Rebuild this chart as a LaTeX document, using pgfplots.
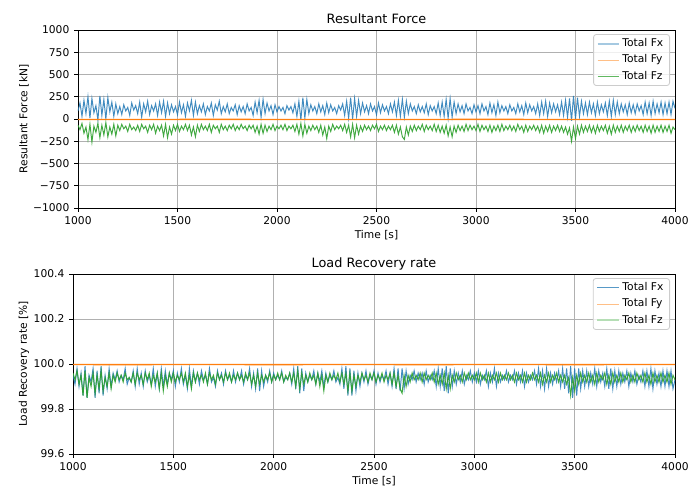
\documentclass[border=0pt]{standalone}
\usepackage{fontspec}
\setmainfont{DejaVu Sans}
\usepackage{pgfplots}
\usepackage{pgfplotstable}
\pgfplotsset{compat=1.18}

\definecolor{c0}{HTML}{1F77B4}
\definecolor{c1}{HTML}{FF7F0E}
\definecolor{c2}{HTML}{2CA02C}
\definecolor{gridc}{HTML}{B0B0B0}

% t: time [s]; fx, fz: resultant force [kN]; rx, rz: load recovery rate [%]
\pgfplotstableread{
t fx fz rx rz
1000 90 -70 99.95 99.96
1010 180 -120 99.91 99.93
1020 30 -50 99.98 99.97
1030 210 -160 99.90 99.91
1040 60 -90 99.96 99.95
1050 250 -230 99.86 99.86
1060 10 -60 99.99 99.97
1070 230 -260 99.85 99.85
1080 70 -80 99.95 99.94
1090 150 -150 99.92 99.90
1100 -10 -50 99.98 99.96
1110 260 -210 99.85 99.87
1120 40 -70 99.97 99.95
1130 220 -180 99.87 99.89
1140 0 -40 99.99 99.97
1150 240 -200 99.86 99.88
1160 80 -90 99.95 99.94
1170 190 -170 99.89 99.90
1180 30 -60 99.98 99.96
1190 170 -190 99.90 99.89
1200 60 -70 99.96 99.95
1210 140 -130 99.93 99.92
1220 50 -60 99.97 99.96
1230 160 -110 99.92 99.93
1240 90 -80 99.95 99.95
1250 130 -140 99.93 99.92
1260 40 -60 99.98 99.96
1270 180 -120 99.91 99.93
1280 100 -90 99.94 99.94
1290 150 -130 99.92 99.92
1300 60 -70 99.97 99.96
1310 190 -140 99.90 99.91
1320 20 -60 99.98 99.96
1330 170 -110 99.91 99.93
1340 80 -80 99.96 99.95
1350 200 -150 99.90 99.91
1360 50 -70 99.97 99.96
1370 150 -120 99.92 99.93
1380 90 -60 99.95 99.96
1390 170 -160 99.91 99.90
1400 40 -80 99.98 99.95
1410 190 -130 99.90 99.92
1420 70 -70 99.96 99.96
1430 200 -190 99.89 99.89
1440 30 -60 99.98 99.96
1450 180 -210 99.90 99.88
1460 60 -90 99.97 99.95
1470 160 -170 99.91 99.90
1480 80 -70 99.96 99.96
1490 140 -130 99.93 99.92
1500 50 -60 99.97 99.96
1510 190 -140 99.90 99.92
1520 70 -80 99.96 99.95
1530 160 -120 99.92 99.93
1540 30 -60 99.98 99.96
1550 180 -130 99.91 99.92
1560 90 -70 99.95 99.96
1570 210 -180 99.89 99.90
1580 40 -90 99.98 99.95
1590 190 -200 99.90 99.89
1600 60 -70 99.97 99.96
1610 150 -140 99.92 99.92
1620 80 -60 99.96 99.96
1630 170 -120 99.91 99.93
1640 50 -80 99.97 99.95
1650 140 -130 99.93 99.92
1660 90 -60 99.95 99.96
1670 180 -150 99.91 99.91
1680 40 -70 99.98 99.96
1690 160 -110 99.92 99.93
1700 100 -80 99.94 99.95
1710 200 -150 99.90 99.91
1720 60 -60 99.97 99.96
1730 140 -120 99.93 99.93
1740 80 -80 99.96 99.95
1750 170 -130 99.91 99.92
1760 60 -70 99.97 99.96
1770 130 -110 99.93 99.93
1780 90 -60 99.95 99.96
1790 160 -130 99.92 99.92
1800 50 -80 99.97 99.95
1810 150 -120 99.92 99.93
1820 80 -60 99.96 99.96
1830 140 -110 99.93 99.93
1840 60 -80 99.97 99.95
1850 170 -130 99.91 99.92
1860 90 -70 99.95 99.96
1870 130 -110 99.93 99.93
1880 40 -70 99.98 99.96
1890 190 -150 99.90 99.91
1900 70 -80 99.96 99.95
1910 210 -170 99.89 99.90
1920 20 -60 99.98 99.96
1930 220 -160 99.88 99.91
1940 60 -70 99.97 99.95
1950 180 -140 99.90 99.92
1960 90 -80 99.95 99.95
1970 150 -120 99.92 99.93
1980 50 -60 99.97 99.96
1990 160 -130 99.92 99.92
2000 80 -80 99.96 99.95
2010 140 -110 99.93 99.93
2020 90 -70 99.95 99.96
2030 130 -120 99.93 99.93
2040 60 -60 99.97 99.96
2050 150 -130 99.92 99.92
2060 100 -80 99.94 99.95
2070 140 -110 99.93 99.93
2080 70 -70 99.96 99.96
2090 170 -140 99.91 99.92
2100 30 -60 99.98 99.96
2110 200 -170 99.89 99.90
2120 -10 -50 99.99 99.97
2130 240 -190 99.87 99.89
2140 10 -60 99.98 99.96
2150 220 -160 99.88 99.91
2160 60 -80 99.96 99.95
2170 160 -130 99.92 99.92
2180 90 -70 99.95 99.96
2190 140 -120 99.93 99.93
2200 60 -80 99.97 99.95
2210 170 -150 99.91 99.91
2220 80 -70 99.96 99.96
2230 150 -180 99.92 99.90
2240 50 -90 99.97 99.95
2250 180 -220 99.90 99.88
2260 70 -80 99.96 99.95
2270 160 -140 99.92 99.92
2280 90 -60 99.95 99.96
2290 130 -120 99.93 99.93
2300 60 -80 99.97 99.95
2310 150 -110 99.92 99.93
2320 100 -70 99.94 99.96
2330 170 -130 99.91 99.92
2340 40 -60 99.98 99.96
2350 200 -150 99.89 99.91
2360 10 -70 99.99 99.96
2370 240 -200 99.86 99.88
2380 0 -60 99.98 99.96
2390 230 -210 99.86 99.88
2400 30 -70 99.97 99.95
2410 210 -170 99.88 99.90
2420 60 -80 99.96 99.95
2430 180 -140 99.90 99.92
2440 80 -70 99.96 99.96
2450 150 -120 99.92 99.93
2460 60 -80 99.97 99.95
2470 170 -130 99.91 99.92
2480 90 -70 99.95 99.96
2490 140 -110 99.93 99.93
2500 50 -60 99.97 99.96
2510 180 -140 99.91 99.92
2520 70 -80 99.96 99.95
2530 160 -120 99.92 99.93
2540 90 -70 99.95 99.96
2550 140 -130 99.93 99.92
2560 60 -80 99.97 99.95
2570 170 -120 99.91 99.93
2580 80 -70 99.96 99.96
2590 190 -150 99.90 99.91
2600 40 -70 99.98 99.96
2610 210 -170 99.89 99.90
2620 30 -90 99.98 99.95
2630 220 -200 99.88 99.89
2640 20 -230 99.98 99.87
2650 200 -90 99.89 99.95
2660 60 -180 99.97 99.90
2670 170 -80 99.91 99.95
2680 90 -140 99.95 99.92
2690 140 -70 99.93 99.96
2700 60 -130 99.97 99.93
2710 160 -80 99.92 99.95
2720 80 -120 99.96 99.93
2730 140 -60 99.93 99.96
2740 70 -140 99.96 99.92
2750 170 -70 99.91 99.96
2760 50 -120 99.97 99.93
2770 150 -80 99.92 99.95
2780 90 -130 99.95 99.93
2790 140 -60 99.93 99.96
2800 60 -140 99.97 99.92
2810 180 -70 99.90 99.96
2820 40 -150 99.98 99.91
2830 190 -80 99.90 99.95
2840 30 -160 99.98 99.91
2850 220 -70 99.88 99.96
2860 10 -190 99.99 99.89
2870 230 -90 99.87 99.95
2880 20 -200 99.98 99.89
2890 190 -80 99.90 99.95
2900 60 -150 99.97 99.92
2910 170 -70 99.91 99.96
2920 80 -130 99.96 99.93
2930 150 -80 99.92 99.95
2940 60 -140 99.97 99.92
2950 170 -60 99.91 99.96
2960 90 -130 99.95 99.93
2970 130 -70 99.93 99.96
2980 60 -120 99.97 99.93
2990 160 -80 99.92 99.95
3000 80 -130 99.96 99.93
3010 150 -60 99.92 99.96
3020 60 -140 99.97 99.92
3030 170 -70 99.91 99.96
3040 90 -120 99.95 99.93
3050 140 -80 99.93 99.95
3060 50 -140 99.97 99.92
3070 180 -70 99.90 99.96
3080 70 -150 99.96 99.92
3090 160 -80 99.92 99.95
3100 40 -130 99.98 99.93
3110 190 -70 99.90 99.96
3120 70 -140 99.96 99.92
3130 150 -60 99.92 99.96
3140 90 -130 99.95 99.93
3150 140 -80 99.93 99.95
3160 60 -120 99.97 99.93
3170 160 -70 99.92 99.96
3180 90 -130 99.95 99.93
3190 130 -80 99.93 99.95
3200 60 -140 99.97 99.92
3210 170 -60 99.91 99.96
3220 80 -120 99.96 99.93
3230 150 -80 99.92 99.95
3240 50 -150 99.97 99.92
3250 180 -70 99.90 99.96
3260 70 -140 99.96 99.92
3270 160 -80 99.92 99.95
3280 90 -120 99.95 99.93
3290 140 -70 99.93 99.96
3300 60 -130 99.97 99.93
3310 170 -80 99.91 99.95
3320 40 -150 99.98 99.92
3330 190 -70 99.90 99.96
3340 60 -160 99.97 99.91
3350 200 -80 99.89 99.95
3360 30 -140 99.98 99.92
3370 180 -70 99.90 99.96
3380 70 -150 99.96 99.92
3390 170 -80 99.91 99.95
3400 80 -130 99.96 99.93
3410 160 -70 99.92 99.96
3420 50 -140 99.97 99.92
3430 190 -80 99.90 99.95
3440 40 -150 99.98 99.92
3450 210 -90 99.89 99.95
3460 20 -170 99.98 99.91
3470 230 -100 99.87 99.94
3480 -20 -250 99.99 99.86
3490 260 -90 99.85 99.94
3500 0 -220 99.98 99.88
3510 240 -80 99.86 99.95
3520 30 -170 99.98 99.91
3530 200 -70 99.89 99.96
3540 60 -150 99.97 99.92
3550 180 -80 99.90 99.95
3560 50 -140 99.97 99.92
3570 190 -70 99.90 99.96
3580 70 -150 99.96 99.92
3590 170 -80 99.91 99.95
3600 40 -160 99.98 99.91
3610 190 -70 99.90 99.96
3620 60 -140 99.97 99.92
3630 160 -80 99.92 99.95
3640 80 -130 99.96 99.93
3650 180 -70 99.90 99.96
3660 40 -160 99.98 99.91
3670 200 -80 99.89 99.95
3680 30 -170 99.98 99.91
3690 210 -70 99.89 99.96
3700 50 -150 99.97 99.92
3710 190 -80 99.90 99.95
3720 60 -140 99.97 99.92
3730 170 -70 99.91 99.96
3740 80 -150 99.96 99.92
3750 160 -80 99.92 99.95
3760 50 -130 99.97 99.93
3770 180 -70 99.90 99.96
3780 70 -150 99.96 99.92
3790 160 -80 99.92 99.95
3800 60 -140 99.97 99.92
3810 170 -70 99.91 99.96
3820 90 -130 99.95 99.93
3830 150 -80 99.92 99.95
3840 50 -150 99.97 99.92
3850 190 -70 99.90 99.96
3860 60 -140 99.97 99.92
3870 180 -80 99.90 99.95
3880 40 -160 99.98 99.91
3890 200 -70 99.89 99.96
3900 60 -150 99.97 99.92
3910 170 -80 99.91 99.95
3920 70 -140 99.96 99.92
3930 190 -70 99.90 99.96
3940 50 -150 99.97 99.92
3950 180 -80 99.90 99.95
3960 60 -140 99.97 99.92
3970 190 -70 99.90 99.96
3980 50 -160 99.97 99.91
3990 200 -90 99.89 99.95
4000 120 -120 99.93 99.93
}\series

\pgfplotsset{
  mplstyle/.style={
    scale only axis,
    anchor=south west,
    xmin=1000, xmax=4000,
    xtick={1000,1500,2000,2500,3000,3500,4000},
    xticklabels={1000,1500,2000,2500,3000,3500,4000},
    tick pos=left,
    tick align=outside,
    major tick length=2.7pt,
    tick style={black, line width=0.6pt},
    axis line style={line width=0.6pt},
    grid=major,
    major grid style={gridc, line width=0.6pt},
    font=\fontsize{7.7}{9.2}\selectfont,
    every axis title shift=0pt,
    title style={at={(axis description cs:0.5,1)}, anchor=base, yshift=5pt,
      font=\fontsize{9.25}{11}\selectfont},
    xlabel style={at={(axis description cs:0.5,0)}, anchor=base, yshift=-22.3pt},
    legend style={at={(axis description cs:1,1)}, anchor=north east,
      xshift=-3.6pt, yshift=-2.9pt, draw=black!20, line width=0.6pt,
      rounded corners=2pt, fill=white, fill opacity=0.8, text opacity=1,
      font=\fontsize{7.7}{9.2}\selectfont, inner xsep=2.5pt, inner ysep=1pt,
      nodes={text height=5.9pt, text depth=1.7pt, inner ysep=2pt}},
    legend cell align=left,
    legend image code/.code={\draw[##1] (0pt,0pt) -- (15.4pt,0pt);},
    every axis plot/.append style={line width=0.7pt},
  }
}

\begin{document}
\begin{tikzpicture}
\useasboundingbox (0,0) rectangle (503.28pt,349.2pt);

\begin{axis}[mplstyle,
  at={(56.16pt,199.44pt)}, width=429.84pt, height=128.16pt,
  ymin=-1000, ymax=1000,
  ytick={-1000,-750,-500,-250,0,250,500,750,1000},
  yticklabels={−1000,−750,−500,−250,0,250,500,750,1000},
  ylabel style={at={(axis description cs:-0.0905,0.5)}, anchor=center},
  title={Resultant Force}, xlabel={Time [s]}, ylabel={Resultant Force [kN]}]
\addlegendimage{c0!40!white, line width=0.9pt}
\addlegendentry{Total Fx}
\addlegendimage{c1!50!white, line width=0.6pt}
\addlegendentry{Total Fy}
\addlegendimage{c2!75!white, line width=0.6pt}
\addlegendentry{Total Fz}
\addplot[c0, opacity=0.85, forget plot] table[x=t, y=fx] {\series};
\addplot[c1, forget plot, line width=1pt] coordinates {
  (1000,-5) (1250,-6) (1500,-5) (1750,-4) (2000,-6) (2250,-5) (2500,-5)
  (2750,-6) (3000,-4) (3250,-5) (3500,-6) (3750,-5) (4000,-5)};
\addplot[c2, opacity=0.9, forget plot] table[x=t, y=fz] {\series};
\end{axis}

\begin{axis}[mplstyle,
  at={(52.56pt,22.32pt)}, width=433.44pt, height=129.6pt,
  ymin=99.6, ymax=100.4,
  ytick={99.6,99.8,100.0,100.2,100.4},
  yticklabels={99.6,99.8,100.0,100.2,100.4},
  ylabel style={at={(axis description cs:-0.0814,0.5)}, anchor=center},
  title={Load Recovery rate}, xlabel={Time [s]}, ylabel={Load Recovery rate [\%]}]
\addlegendimage{c0!75!white, line width=0.6pt}
\addlegendentry{Total Fx}
\addlegendimage{c1!50!white, line width=0.6pt}
\addlegendentry{Total Fy}
\addlegendimage{c2!35!white, line width=1.2pt}
\addlegendentry{Total Fz}
\addplot[c0, opacity=0.85, forget plot] table[x=t, y=rx] {\series};
\addplot[c1, forget plot, line width=1pt] coordinates {
  (1000,99.998) (1250,99.997) (1500,99.998) (1750,99.998) (2000,99.997)
  (2250,99.998) (2500,99.998) (2750,99.997) (3000,99.998) (3250,99.998)
  (3500,99.997) (3750,99.998) (4000,99.998)};
\addplot[c2, opacity=0.9, forget plot] table[x=t, y=rz] {\series};
\end{axis}
\end{tikzpicture}
\end{document}
